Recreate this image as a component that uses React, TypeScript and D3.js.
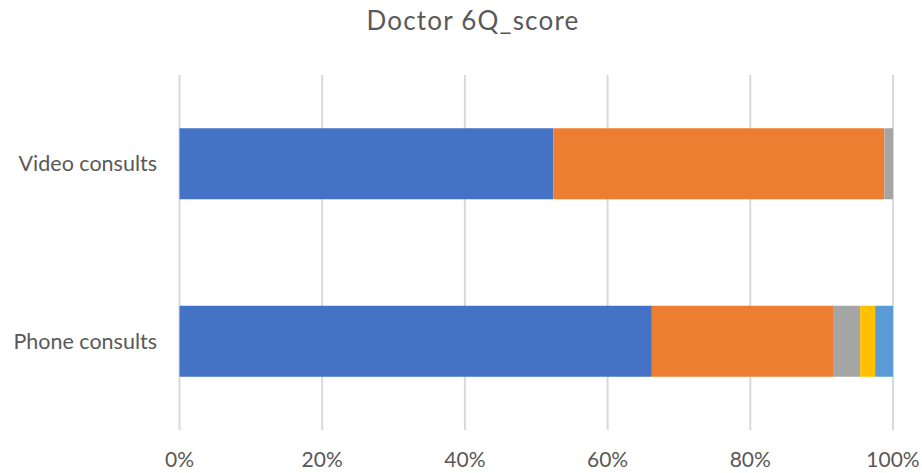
import React from 'react';
import * as d3 from 'd3';

const title = 'Doctor 6Q_score';
const categories = ['Video consults', 'Phone consults'];
const seriesNames = ['s1', 's2', 's3', 's4', 's5'];
const seriesColors = ['#4472C4', '#ED7D31', '#A5A5A5', '#FFC000', '#5B9BD5'];
// share per category, in percent, one array per series
const s1 = [52.4, 66.2];
const s2 = [46.4, 25.4];
const s3 = [1.2, 3.8];
const s4 = [0, 2.1];
const s5 = [0, 2.5];
const tickValues = [0, 0.2, 0.4, 0.6, 0.8, 1];

const W = 922;
const H = 473;
const font = 'Lato, "Open Sans", sans-serif';
const textColor = '#595959';

export default function App() {
    const values = [s1, s2, s3, s4, s5];
    const rows = categories.map((c, i) => {
        const row: any = { cat: c };
        seriesNames.forEach((s, j) => (row[s] = values[j][i]));
        return row;
    });
    const stacked = d3.stack().keys(seriesNames).offset(d3.stackOffsetExpand)(rows);

    const x = d3.scaleLinear().domain([0, 1]).range([179.5, 893]);
    const y = d3
        .scaleBand()
        .domain(categories)
        .range([75, 430])
        .paddingInner(0.6)
        .paddingOuter(0.3);

    return (
        <svg
            width={W}
            height={H}
            style={{ position: 'absolute', left: 0, top: 0, background: '#fff' }}
            fontFamily={font}
        >
            <text
                x={W / 2 + 12}
                y={30}
                textAnchor="middle"
                fontSize={26}
                letterSpacing={1.2}
                fill={textColor}
            >
                {title}
            </text>
            <g className="grid">
                {tickValues.map((t) => (
                    <line
                        key={t}
                        x1={x(t)}
                        x2={x(t)}
                        y1={y.range()[0]}
                        y2={y.range()[1]}
                        stroke="#D9D9D9"
                        strokeWidth={2}
                    />
                ))}
            </g>
            <g className="bars">
                {stacked.map((layer, j) => (
                    <g key={layer.key} fill={seriesColors[j]}>
                        {layer.map((d: any, i) => (
                            <rect
                                key={i}
                                x={x(d[0])}
                                width={Math.max(0, x(d[1]) - x(d[0]))}
                                y={y(d.data.cat)}
                                height={y.bandwidth()}
                            />
                        ))}
                    </g>
                ))}
            </g>
            <g className="x-axis">
                {tickValues.map((t) => (
                    <text
                        key={t}
                        x={x(t)}
                        y={467}
                        textAnchor="middle"
                        fontSize={21}
                        fill={textColor}
                    >
                        {d3.format('.0%')(t)}
                    </text>
                ))}
            </g>
            <g className="y-axis">
                {categories.map((c) => (
                    <text
                        key={c}
                        x={157}
                        y={(y(c) as number) + y.bandwidth() / 2}
                        dy="0.35em"
                        textAnchor="end"
                        fontSize={21.5}
                        fill={textColor}
                    >
                        {c}
                    </text>
                ))}
            </g>
        </svg>
    );
}
